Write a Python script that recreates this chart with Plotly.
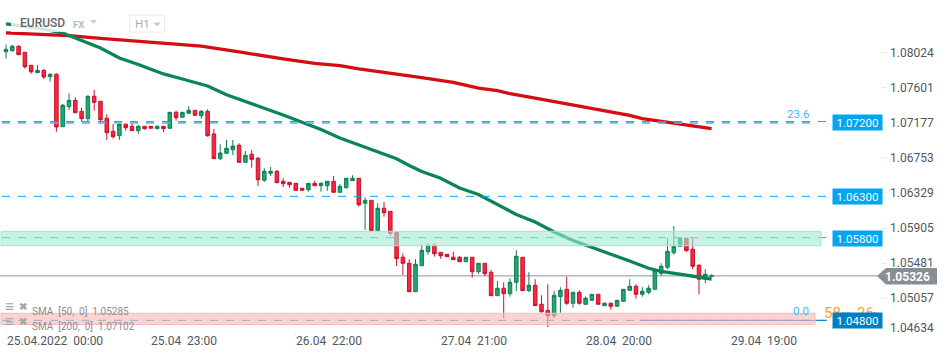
import plotly.graph_objects as go

W, H = 950, 358

# ---------- data ----------
opens = [1.08038,1.08051,1.08104,1.08031,1.07874,1.07784,1.07813,1.07736,1.07765,1.07131,
1.07373,1.0745,1.07317,1.07228,1.07499,1.07438,1.07233,1.07075,1.07022,1.0716,
1.07136,1.07083,1.07136,1.07136,1.07107,1.07136,1.07112,1.07305,1.07245,1.07293,
1.07329,1.07264,1.07317,1.07043,1.06744,1.06809,1.06853,1.06906,1.067,1.06797,
1.06749,1.06482,1.06567,1.06591,1.0647,1.06458,1.06446,1.06386,1.06369,1.06446,
1.06417,1.06417,1.0647,1.06337,1.06393,1.06478,1.06507,1.06204,1.0624,1.05873,
1.06144,1.06107,1.05853,1.05551,1.05478,1.05134,1.05449,1.05618,1.05696,1.05611,
1.05587,1.05551,1.05551,1.05497,1.05551,1.05376,1.05478,1.05369,1.05086,1.05176,
1.0511,1.05248,1.05551,1.05147,1.05212,1.04982,1.04909,1.04844,1.05074,1.05163,
1.04994,1.05127,1.04982,1.0503,1.05103,1.04965,1.04994,1.04958,1.05018,1.05151,
1.052,1.05103,1.05127,1.05163,1.05357,1.0543,1.05606,1.05684,1.05781,1.05648,
1.05454,1.05285,1.05321]
highs = [1.08128,1.0812,1.08116,1.08031,1.07874,1.07878,1.07829,1.07777,1.07777,1.07406,
1.07535,1.07487,1.07361,1.07511,1.07575,1.07438,1.07281,1.07164,1.07164,1.07172,
1.07179,1.07152,1.07136,1.07136,1.07143,1.07136,1.07305,1.07325,1.07305,1.07378,
1.07329,1.07333,1.07341,1.07103,1.06918,1.0697,1.0697,1.0693,1.06837,1.06849,
1.06764,1.06628,1.06643,1.06607,1.06507,1.06458,1.06446,1.06386,1.06446,1.06474,
1.06458,1.0647,1.06534,1.06438,1.06507,1.06543,1.06507,1.06277,1.0624,1.06204,
1.0622,1.06107,1.05853,1.05599,1.05527,1.0553,1.05708,1.0572,1.0572,1.05611,
1.05587,1.05615,1.05566,1.05551,1.05551,1.05478,1.05478,1.05397,1.05264,1.05248,
1.05297,1.05635,1.05551,1.05369,1.05285,1.05091,1.05224,1.05143,1.05188,1.05316,
1.05127,1.05151,1.05076,1.05103,1.05103,1.05006,1.05006,1.0503,1.05163,1.05285,
1.05224,1.05188,1.05212,1.05413,1.05478,1.05781,1.05929,1.05793,1.05781,1.05781,
1.05466,1.05406,1.05345]
lows = [1.07954,1.08038,1.08002,1.07833,1.07772,1.07784,1.07708,1.07675,1.0707,1.07131,
1.07333,1.073,1.07191,1.07191,1.07325,1.07196,1.0697,1.06986,1.0697,1.07083,
1.07083,1.07043,1.07095,1.07112,1.071,1.07067,1.07112,1.07204,1.07245,1.07285,
1.07269,1.07228,1.0701,1.06744,1.06728,1.06809,1.06789,1.067,1.067,1.06635,
1.06413,1.06465,1.06534,1.06453,1.06401,1.06393,1.06361,1.06361,1.06344,1.06417,
1.06344,1.06353,1.06337,1.06337,1.06381,1.06478,1.06163,1.05881,1.05873,1.05873,
1.06042,1.05808,1.05445,1.05337,1.05134,1.05134,1.05449,1.05582,1.05558,1.05534,
1.05558,1.05522,1.05497,1.05497,1.05304,1.05349,1.05324,1.05086,1.05086,1.04816,
1.05074,1.05143,1.05147,1.05131,1.04965,1.0488,1.04707,1.04816,1.0488,1.04974,
1.04941,1.04977,1.04982,1.0503,1.04982,1.04965,1.04917,1.04958,1.05018,1.05151,
1.0505,1.05074,1.05103,1.05163,1.05328,1.05406,1.05582,1.05684,1.05618,1.05406,
1.05103,1.05236,1.05321]
closes = [1.08067,1.08104,1.08002,1.07857,1.07796,1.07813,1.07732,1.07765,1.07127,1.0739,
1.0745,1.073,1.07228,1.07499,1.07426,1.07216,1.07058,1.0701,1.0716,1.07119,
1.07083,1.07136,1.07107,1.07112,1.07136,1.07107,1.07305,1.0724,1.07305,1.07329,
1.07269,1.07317,1.07022,1.06744,1.06813,1.0687,1.06897,1.067,1.06785,1.06736,
1.0649,1.06591,1.06591,1.06453,1.06441,1.06429,1.06361,1.06361,1.06446,1.06417,
1.06446,1.0647,1.06337,1.0641,1.06507,1.06507,1.06187,1.0624,1.05873,1.06144,
1.0609,1.05841,1.05534,1.05478,1.05134,1.05466,1.05635,1.05696,1.05594,1.0557,
1.05558,1.05522,1.05497,1.05551,1.05376,1.05478,1.05352,1.05086,1.05176,1.0511,
1.05248,1.05563,1.05147,1.05212,1.04965,1.04892,1.04844,1.05091,1.05151,1.04994,
1.05127,1.04994,1.05055,1.05103,1.04982,1.04994,1.04958,1.0503,1.05163,1.052,
1.05103,1.05139,1.05176,1.05393,1.05442,1.05623,1.05684,1.05781,1.05631,1.05442,
1.05285,1.05345,1.05326]
bars = list(range(len(opens)))

sma50_bars = [0,5,9,10,12,15,18,21,25,28,32,35,37,40,44,47,50,53,56,59,62,64,66,69,72,75,78,81,84,87,90,93,96,99,102,104,107,110,112]
sma50_vals = [1.08374,1.08325,1.08265,1.08238,1.08174,1.08083,1.07962,1.07884,1.07769,1.07708,1.07623,1.07517,1.0746,1.07381,1.07273,1.0719,1.07097,1.06994,1.0691,1.06831,1.06743,1.06661,1.06589,1.06507,1.06389,1.0631,1.0619,1.06069,1.05978,1.05857,1.05754,1.05667,1.05587,1.05506,1.05418,1.05381,1.05343,1.05306,1.05288]
sma200_bars = [0,10,15,21,26,31,37,40,44,49,53,56,61,66,71,73,75,78,80,84,87,90,93,96,99,101,105,108,112]
sma200_vals = [1.08265,1.08234,1.08199,1.08168,1.08138,1.08107,1.08035,1.08004,1.07953,1.07896,1.07871,1.07832,1.07781,1.07725,1.07668,1.07629,1.07599,1.07567,1.0753,1.07478,1.07436,1.07387,1.07351,1.07309,1.07269,1.07229,1.07183,1.07152,1.07107]

price_ticks = [1.08024,1.07601,1.07177,1.06753,1.06329,1.05905,1.05481,1.05057]
price_tick_text = ["1.08024","1.07601","1.07177","1.06753","1.06329","1.05905","1.05481","1.05057"]
low_tick_text = "1.04634"
time_tick_bars = [0,23,46,69,92,115]
time_tick_text = ["25.04.2022\u00a0\u00a000:00","25.04\u00a0\u00a023:00","26.04\u00a0\u00a022:00","27.04\u00a0\u00a021:00","28.04\u00a0\u00a020:00","29.04\u00a0\u00a019:00"]

last_price = 1.05326
level_72, level_72b, level_63, level_58, level_48 = 1.07193, 1.07176, 1.06288, 1.05788, 1.04788
level_tags = ["1.07200","1.06300","1.05800","1.04800"]
green_zone = (1.05691, 1.05865)
red_zone = (1.04738, 1.04873)

# ---------- helpers ----------
def px(x): return x / W
def py(y): return 1 - y / H
def path(points):
    return "M" + " L".join(f"{px(x):.5f},{py(y):.5f}" for x, y in points) + " Z"

BLUE, DBLUE = "#00a6f4", "#0080c4"
FONT = "Roboto"
shapes, ann = [], []

def hline(y, x0, x1, color, width=1, dash="8px,8px", layer="above"):
    shapes.append(dict(type="line", xref="paper", yref="y", x0=px(x0), x1=px(x1), y0=y, y1=y,
                       layer=layer, line=dict(color=color, width=width, dash=dash)))

def label(x, y, text, size=12, color="#50585c", anchor="left", weight=None):
    font = dict(family=FONT, size=size, color=color)
    if weight:
        font["weight"] = weight
    ann.append(dict(xref="paper", yref="paper", x=px(x), y=py(y), text=text, showarrow=False,
                    xanchor=anchor, yanchor="middle", xshift=-2 if anchor == "left" else 0, font=font))

# last-price line below candles
hline(last_price, 0, 880, "#8a9499", 1, "solid", "below")

# level lines
hline(level_72, 2, 827, BLUE, 1)
hline(level_72b, 2, 812, "#3dbaf8", 1.6)
hline(level_63, 2, 827, BLUE, 1)
hline(level_58, 2, 827, BLUE, 1)
hline(level_48, 2, 827, BLUE, 1)
hline(level_48, 640, 827, DBLUE, 1, "solid")

# zones over the candles
shapes.append(dict(type="rect", xref="paper", yref="y", x0=px(1), x1=px(821), y0=green_zone[0], y1=green_zone[1],
                   fillcolor="rgba(165,233,210,0.6)", line=dict(color="#a2e5cd", width=1), layer="above"))
shapes.append(dict(type="rect", xref="paper", yref="y", x0=px(1), x1=px(815), y0=red_zone[0], y1=red_zone[1],
                   fillcolor="rgba(248,182,182,0.6)", line=dict(color="#f8b8b8", width=1), layer="above"))

# header veil and controls
shapes.append(dict(type="rect", xref="paper", yref="paper", x0=px(11), x1=px(64), y0=py(32), y1=py(14),
                   fillcolor="rgba(255,255,255,0.82)", line=dict(width=0), layer="above"))
shapes.append(dict(type="rect", xref="paper", yref="paper", x0=px(129.5), x1=px(164.5), y0=py(32), y1=py(15),
                   fillcolor="rgba(255,255,255,0)", line=dict(color="#e8eaeb", width=1), layer="above"))
shapes.append(dict(type="path", xref="paper", yref="paper", path=path([(90,20),(97,20),(93.5,24)]),
                   fillcolor="#c8cdd0", line=dict(width=0), layer="above"))
shapes.append(dict(type="path", xref="paper", yref="paper", path=path([(153,22.5),(161,22.5),(157,26.5)]),
                   fillcolor="#c8cdd0", line=dict(width=0), layer="above"))
# last price tag
shapes.append(dict(type="path", xref="paper", yref="paper",
                   path=path([(877,276),(886,268),(937,268),(937,284.5),(886,284.5)]),
                   fillcolor="#858f94", line=dict(width=0), layer="above"))

# header text
label(20, 23, "EURUSD", 12, "#5d676c", weight=500)
label(73, 24, "<b>FX</b>", 9.5, "#b4bcc1")
label(135, 23.5, "H1", 11.5, "#a8aeb2")

# SMA legend
label(5, 306, "<b>≡</b>", 16, "#a6a6a6")
label(19, 306, "<b>✖</b>", 9.5, "#a6a6a6")
label(32, 311, "SMA\u00a0\u00a0[50,\u00a0\u00a00]\u00a0\u00a01.05285", 10, "#8a8f92")
label(5, 321.5, "<b>≡</b>", 16, "#a6a6a6")
label(19, 321.5, "<b>✖</b>", 9.5, "#a6a6a6")
label(32, 326, "SMA\u00a0\u00a0[200,\u00a0\u00a00]\u00a0\u00a01.07102", 10, "#8a8f92")

# time labels
for b, t in zip(time_tick_bars, time_tick_text):
    ann.append(dict(xref="x", yref="paper", x=b, y=py(340.5), text=t, showarrow=False, xanchor="left",
                    yanchor="middle", xshift=-1.5, font=dict(family=FONT, size=12, color="#50585c")))

# fib and timer text
label(787, 114.5, "23.6", 11.5, "#3fb7f8")
label(793, 310.5, "0.0", 11.5, "#3fb7f8")
label(824, 312.5, "58", 15, "#ff9b1e")
label(841, 314, "m", 11, "#b8bdc0")
label(857, 312.5, "26", 15, "#ff9b1e")
label(872, 314, "s", 11, "#b8bdc0")

# low price tick (label pushed up by the chart)
label(890, 327.5, low_tick_text, 12, "#50585c")

# level tags
for y, t, c in zip([122.3, 196.3, 238.3, 320.3], level_tags, [BLUE, BLUE, BLUE, DBLUE]):
    ann.append(dict(xref="paper", yref="paper", x=px(857.5), y=py(y), text=t, showarrow=False,
                    xanchor="center", yanchor="middle", width=49, height=15, bgcolor=c, borderpad=0,
                    font=dict(family=FONT, size=11.5, color="#ffffff")))
label(907, 276.5, "<b>" + f"{last_price:.5f}" + "</b>", 12, "#ffffff", anchor="center")

# ---------- figure ----------
fig = go.Figure()
fig.add_trace(go.Candlestick(
    x=bars, open=opens, high=highs, low=lows, close=closes, whiskerwidth=0,
    increasing=dict(line=dict(color="#0f7d55", width=1), fillcolor="#1fa870"),
    decreasing=dict(line=dict(color="#c9102c", width=1), fillcolor="#f52a40"),
    showlegend=False))
fig.add_trace(go.Scatter(x=sma200_bars, y=sma200_vals, mode="lines", line=dict(color="#d40d12", width=3.3), showlegend=False))
fig.add_trace(go.Scatter(x=sma50_bars, y=sma50_vals, mode="lines", line=dict(color="#0b8558", width=3.3), showlegend=False))

fig.update_layout(
    width=W, height=H, margin=dict(l=0, r=0, t=0, b=0), autosize=False,
    paper_bgcolor="#ffffff", plot_bgcolor="#ffffff", showlegend=False, boxgap=0.2,
    shapes=shapes, annotations=ann,
    xaxis=dict(domain=[0, 887 / W], range=[-0.952, 139.84], rangeslider=dict(visible=False),
               showgrid=False, zeroline=False, showline=False, anchor="free", position=1 - 330.5 / H,
               tickmode="array", tickvals=time_tick_bars, ticktext=[""] * len(time_tick_bars),
               ticks="outside", ticklen=3, tickcolor="#eeeeee", tickwidth=1),
    yaxis=dict(domain=[0, 1], range=[1.04332, 1.08664], side="right", showgrid=False, zeroline=False,
               showline=False, tickmode="array", tickvals=price_ticks, ticktext=price_tick_text,
               ticks="inside", ticklen=6, tickcolor="#e8eaeb", tickwidth=1, ticklabelstandoff=2,
               tickfont=dict(family=FONT, size=12, color="#50585c")),
)
fig.write_html("out.html", config=dict(displayModeBar=False),
               post_script="document.body.style.margin='0';document.documentElement.style.overflow='hidden';")
